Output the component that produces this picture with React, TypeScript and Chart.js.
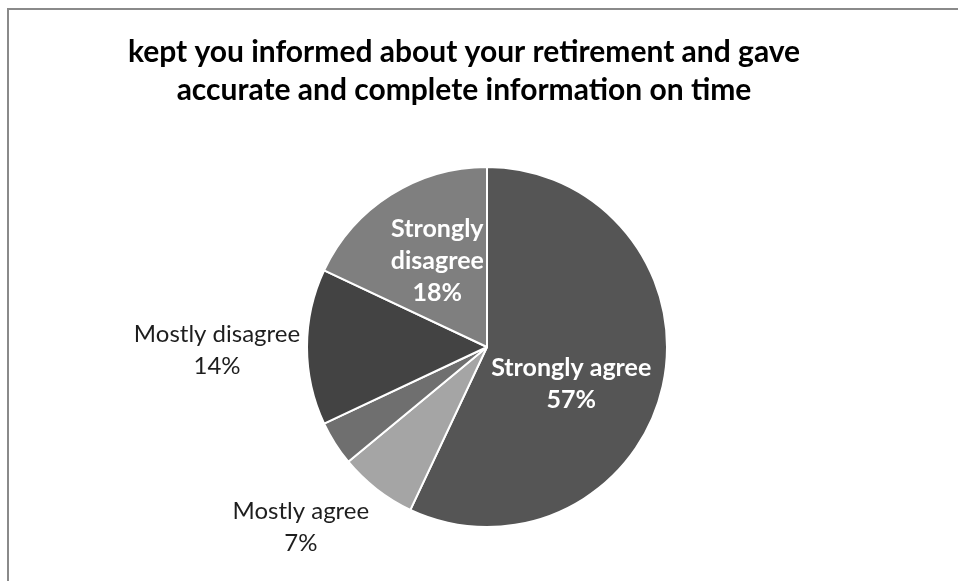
import React, { useEffect, useRef } from "react";
import { Chart, registerables } from "chart.js";

Chart.register(...registerables);

const categories = [
  "Strongly agree",
  "Mostly agree",
  "Neither agree nor disagree",
  "Mostly disagree",
  "Strongly disagree",
];
const values = [57, 7, 4, 14, 18];
const showLabel = [true, true, false, true, true];
const titleLines = [
  "kept you informed about your retirement and gave",
  "accurate and complete information on time",
];

const colors = ["#555555", "#a5a5a5", "#6f6f6f", "#434343", "#7f7f7f"];
// label placement: [radius fraction, angle in degrees (canvas), inside?]
const labelPlace: [number, number, boolean][] = [
  [0.51, 23.5, true],
  [1.44, 135.9, false],
  [0, 0, false],
  [1.5, 179.4, false],
  [0.554, -119.9, true],
];
const FONT = "Lato, 'Open Sans', sans-serif";
const TITLE_X = 464;
const TITLE_Y = 52;
const TITLE_LH = 38;

const titlePlugin = {
  id: "customTitle",
  afterDraw(chart: any) {
    const ctx = chart.ctx;
    ctx.save();
    ctx.font = "bold 30px " + FONT;
    ctx.fillStyle = "#000000";
    ctx.textAlign = "center";
    ctx.textBaseline = "middle";
    titleLines.forEach((l, k) => ctx.fillText(l, TITLE_X, TITLE_Y + k * TITLE_LH));
    ctx.restore();
  },
};

const labelPlugin = {
  id: "sliceLabels",
  afterDatasetsDraw(chart: any) {
    const meta = chart.getDatasetMeta(0);
    const ctx = chart.ctx;
    const total = values.reduce((a, b) => a + b, 0);
    meta.data.forEach((arc: any, i: number) => {
      if (!showLabel[i]) return;
      const [rf, deg, inside] = labelPlace[i];
      const a = (deg * Math.PI) / 180;
      const cx = arc.x + Math.cos(a) * arc.outerRadius * rf;
      const cy = arc.y + Math.sin(a) * arc.outerRadius * rf;
      const pct = Math.round((values[i] / total) * 100) + "%";
      const words = categories[i];
      let lines: string[];
      if (i === 4) lines = ["Strongly", "disagree", pct];
      else lines = [words, pct];
      ctx.save();
      ctx.font = inside ? "bold 25px " + FONT : "24px " + FONT;
      ctx.fillStyle = inside ? "#ffffff" : "#1e1e1e";
      ctx.textAlign = "center";
      ctx.textBaseline = "middle";
      const lh = 32;
      const start = cy - ((lines.length - 1) * lh) / 2;
      lines.forEach((l, k) => ctx.fillText(l, cx, start + k * lh));
      ctx.restore();
    });
  },
};

export default function App() {
  const ref = useRef<HTMLCanvasElement>(null);
  useEffect(() => {
    if (!ref.current) return;
    const chart = new Chart(ref.current, {
      type: "pie",
      data: {
        labels: categories,
        datasets: [
          {
            data: values,
            backgroundColor: colors,
            borderColor: "#ffffff",
            borderWidth: 2,
          },
        ],
      },
      options: {
        responsive: false,
        animation: false,
        devicePixelRatio: 1,
        layout: { padding: { top: 166, bottom: 53, left: 16, right: 0 } },
        plugins: {
          legend: { display: false },
          tooltip: { enabled: false },
          title: { display: false },
        },
      },
      plugins: [labelPlugin, titlePlugin],
    });
    return () => chart.destroy();
  }, []);
  return (
    <div
      style={{
        position: "fixed",
        left: 0,
        top: 0,
        width: 958,
        height: 581,
        overflow: "hidden",
        background: "#ffffff",
      }}
    >
      <div
        style={{
          position: "absolute",
          left: 7,
          top: 8,
          width: 1100,
          height: 800,
          border: "2px solid #8a8a8a",
        }}
      />
      <canvas
        ref={ref}
        width={958}
        height={581}
        style={{ position: "absolute", left: 0, top: 0, width: 958, height: 581 }}
      />
    </div>
  );
}
